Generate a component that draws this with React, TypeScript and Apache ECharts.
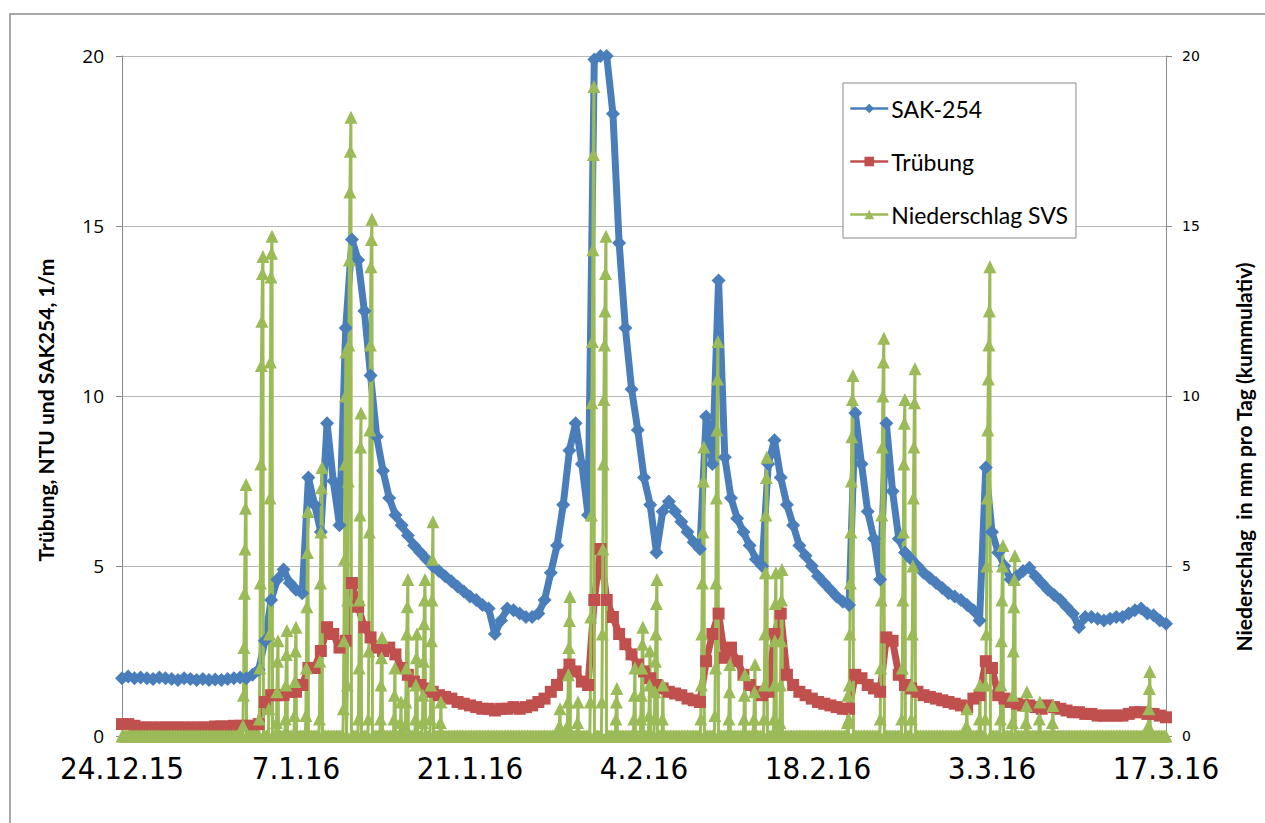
import React, { useEffect, useRef } from "react";
import * as echarts from "echarts";

// x-axis tick labels (every 14 days, starting 24.12.15 = day 0)
const xTickLabels = ["24.12.15", "7.1.16", "21.1.16", "4.2.16", "18.2.16", "3.3.16", "17.3.16"];

// SAK-254 [1/m], one reading every half day from day 0 to day 84
const sakValues = [
  1.7, 1.75, 1.7, 1.72, 1.7, 1.68, 1.72, 1.7, 1.68, 1.65,
  1.7, 1.68, 1.65, 1.68, 1.65, 1.66, 1.65, 1.68, 1.7, 1.72,
  1.7, 1.8, 1.95, 2.8, 4.0, 4.6, 4.9, 4.5, 4.3, 4.2,
  7.6, 6.8, 6.0, 9.2, 7.5, 6.2, 12.0, 14.6, 14.0, 12.5,
  10.6, 8.8, 7.8, 7.0, 6.5, 6.2, 5.9, 5.6, 5.4, 5.2,
  5.0, 4.85, 4.7, 4.55, 4.4, 4.25, 4.1, 4.0, 3.85, 3.75,
  3.0, 3.4, 3.75, 3.7, 3.6, 3.5, 3.5, 3.6, 4.0, 4.8,
  5.6, 6.8, 8.4, 9.2, 8.0, 6.5, 19.9, 20, 20, 18.3,
  14.5, 12.0, 10.2, 9.0, 7.6, 6.8, 5.4, 6.6, 6.9, 6.6,
  6.3, 6.0, 5.7, 5.5, 9.4, 8.0, 13.4, 8.2, 7.0, 6.4,
  6.0, 5.6, 5.2, 5.0, 8.0, 8.7, 7.6, 6.8, 6.2, 5.6,
  5.3, 5.0, 4.7, 4.5, 4.3, 4.1, 3.95, 3.85, 9.5, 8.0,
  6.6, 5.8, 4.6, 9.2, 7.2, 5.8, 5.4, 5.2, 5.0, 4.8,
  4.65, 4.5, 4.35, 4.2, 4.1, 4.0, 3.85, 3.7, 3.4, 7.9,
  6.0, 5.4, 5.0, 4.6, 4.7, 4.85, 4.95, 4.7, 4.5, 4.3,
  4.15, 4.0, 3.8, 3.6, 3.2, 3.5, 3.5, 3.45, 3.4, 3.45,
  3.5, 3.5, 3.6, 3.7, 3.75, 3.6, 3.55, 3.4, 3.3,
];

// Trübung [NTU], one reading every half day from day 0 to day 84
const truebungValues = [
  0.35, 0.35, 0.3, 0.25, 0.25, 0.25, 0.25, 0.25, 0.25, 0.25,
  0.25, 0.25, 0.25, 0.25, 0.25, 0.28, 0.28, 0.28, 0.3, 0.3,
  0.3, 0.3, 0.35, 1.0, 1.2, 1.2, 1.2, 1.3, 1.3, 1.5,
  2.0, 2.0, 2.5, 3.2, 3.0, 2.6, 2.8, 4.5, 3.8, 3.2,
  2.9, 2.6, 2.5, 2.6, 2.4, 2.0, 1.8, 1.6, 1.5, 1.4,
  1.3, 1.2, 1.15, 1.1, 1.0, 0.95, 0.9, 0.85, 0.8, 0.8,
  0.75, 0.8, 0.8, 0.85, 0.8, 0.85, 0.9, 1.0, 1.1, 1.3,
  1.5, 1.8, 2.1, 1.9, 1.6, 1.5, 4.0, 5.5, 4.0, 3.5,
  3.0, 2.7, 2.4, 2.1, 1.9, 1.7, 1.5, 1.4, 1.3, 1.25,
  1.2, 1.1, 1.05, 1.0, 2.2, 3.0, 3.6, 2.3, 2.6, 2.2,
  1.8, 1.5, 1.3, 1.2, 1.3, 3.0, 3.6, 1.8, 1.5, 1.3,
  1.2, 1.1, 1.0, 0.95, 0.9, 0.85, 0.8, 0.8, 1.8, 1.7,
  1.5, 1.4, 1.3, 2.9, 2.8, 1.8, 1.5, 1.4, 1.3, 1.2,
  1.15, 1.1, 1.05, 1.0, 0.95, 0.9, 0.85, 1.1, 1.2, 2.2,
  2.0, 1.2, 1.1, 1.0, 0.95, 0.9, 0.9, 0.85, 0.8, 0.9,
  0.85, 0.8, 0.75, 0.7, 0.7, 0.65, 0.65, 0.6, 0.6, 0.6,
  0.6, 0.6, 0.65, 0.7, 0.7, 0.65, 0.65, 0.6, 0.55,
];

// Niederschlag SVS: [day of peak, hourly cumulative readings in mm]
const rainEvents: [number, number[]][] = [
  [9.98, [0.3, 1.2, 2.6, 4.2, 5.5, 6.7, 7.4]],
  [11.34, [0.5, 2.0, 4.5, 8.0, 10.9, 12.2, 13.6, 14.1]],
  [12.07, [0.8, 3.0, 7.0, 11.0, 13.5, 14.2, 14.7]],
  [12.55, [0.4, 1.3, 2.2, 2.8]],
  [13.27, [0.5, 1.5, 2.4, 3.1]],
  [14.0, [0.6, 1.6, 2.5, 3.2]],
  [14.96, [0.6, 2.0, 3.8, 5.4, 6.6]],
  [16.09, [0.5, 2.2, 4.5, 6.0, 7.3, 7.9]],
  [18.02, [0.8, 2.8, 5.2, 8.0, 10.0, 11.3]],
  [18.42, [1.5, 4.0, 7.5, 11.5, 14.0, 16.0, 17.2, 18.2]],
  [19.23, [0.5, 2.0, 4.0, 6.5, 8.5, 9.5]],
  [20.11, [0.5, 2.5, 6.0, 9.0, 11.5, 13.8, 14.6, 15.2]],
  [20.92, [0.5, 1.5, 2.3, 2.9]],
  [21.96, [0.5, 1.2, 2.0]],
  [22.45, [0.4, 1.0]],
  [23.0, [0.3, 1.0, 2.0, 3.0, 3.8, 4.6]],
  [23.73, [0.5, 1.5, 2.3, 3.0]],
  [24.38, [0.4, 1.2, 2.2, 3.3, 4.0, 4.6]],
  [25.02, [0.5, 1.5, 2.8, 4.0, 5.2, 6.3]],
  [25.66, [0.4, 1.0]],
  [35.24, [0.3, 0.8]],
  [36.04, [0.3, 1.0, 1.8, 2.6, 3.4, 4.1]],
  [36.69, [0.4, 1.0]],
  [37.97, [1.0, 3.5, 6.5, 9.8, 11.6, 14.3, 17.1, 19.1]],
  [38.94, [1.0, 3.0, 5.5, 8.0, 9.9, 11.5, 12.5, 13.6, 14.7]],
  [39.82, [0.5, 1.0, 1.4]],
  [41.27, [0.5, 1.2, 2.0]],
  [41.91, [0.5, 1.2, 2.0, 2.7, 3.2]],
  [42.48, [0.6, 1.5, 2.5]],
  [43.04, [0.5, 1.3, 2.2, 3.0, 3.9, 4.6]],
  [43.52, [0.5, 1.5]],
  [46.82, [0.5, 1.5, 3.0, 4.5, 6.0, 7.5, 8.5]],
  [47.95, [0.6, 2.0, 4.5, 7.0, 9.0, 10.5, 11.6]],
  [48.91, [0.5, 1.3, 2.1]],
  [50.12, [0.5, 1.2, 1.8]],
  [50.93, [0.5, 1.3, 2.1]],
  [51.89, [0.5, 1.5, 3.0, 4.8, 6.5, 7.6, 8.2]],
  [52.61, [0.5, 1.5, 2.8, 3.9, 4.8]],
  [53.1, [0.4, 1.5, 2.8, 4.0, 4.9]],
  [58.41, [0.4, 1.2]],
  [58.81, [0.5, 1.5, 3.0, 4.5, 6.0, 7.5, 8.8, 9.9, 10.6]],
  [61.3, [0.5, 2.0, 4.0, 6.5, 8.5, 10.0, 11.0, 11.7]],
  [62.99, [0.5, 2.0, 4.0, 6.0, 8.0, 9.2, 9.9]],
  [63.8, [0.5, 1.5, 3.0, 5.0, 7.0, 8.5, 9.8, 10.8]],
  [67.98, [0.3, 0.8]],
  [69.03, [0.5, 1.5]],
  [69.83, [0.5, 1.5, 3.0, 5.0, 7.0, 9.0, 10.5, 11.5, 12.5, 13.8]],
  [70.88, [0.5, 1.5, 2.8, 4.0, 5.0, 5.6]],
  [71.84, [0.4, 1.2, 2.5, 3.8, 4.6, 5.3]],
  [72.81, [0.4, 0.9, 1.3]],
  [73.85, [0.5, 1.0]],
  [74.9, [0.4, 0.9]],
  [82.7, [0.3, 0.8, 1.4, 1.9]],
];

const HALF_DAY = 0.5;
const HOUR = 1 / 24;
const LAST_DAY = 84;
const DRY_STEP = 0.125; // dry-period readings every 3 hours (value 0)

function halfDayPairs(vals: number[]) {
  return vals.map((v, i) => [i * HALF_DAY, v]);
}

function rainPairs() {
  const pts: number[][] = [];
  const busy: number[][] = [];
  rainEvents.forEach(([tp, r]) => {
    const t0 = tp - r.length * HOUR;
    pts.push([t0, 0]);
    r.forEach((v, i) => pts.push([tp - (r.length - 1 - i) * HOUR, v]));
    pts.push([tp + HOUR, 0]);
    busy.push([t0, tp + HOUR]);
  });
  const n = Math.round(LAST_DAY / DRY_STEP);
  for (let k = 0; k <= n; k++) {
    const t = k * DRY_STEP;
    if (!busy.some(([a, b]) => t >= a - 0.05 && t <= b + 0.05)) pts.push([t, 0]);
  }
  pts.sort((a, b) => a[0] - b[0]);
  return pts;
}

const BLUE = "#4A7EBB";
const RED = "#C0504D";
const GREEN = "#9BBB59";
const GRID = "#b8b8b8";
const AXIS = "#8a8a8a";

export default function App() {
  const ref = useRef<HTMLDivElement>(null);
  useEffect(() => {
    if (!ref.current) return;
    const chart = echarts.init(ref.current, undefined, { renderer: "svg" });
    const option: any = {
      animation: false,
      backgroundColor: "#ffffff",
      grid: { left: 122, right: 99, top: 56, bottom: 87, containLabel: false },
      legend: {
        orient: "vertical",
        left: 843,
        top: 83,
        padding: [14, 8, 12, 6],
        itemGap: 30,
        itemWidth: 38,
        itemHeight: 12,
        backgroundColor: "#ffffff",
        borderColor: "#888888",
        borderWidth: 1,
        borderRadius: 0,
        textStyle: { fontFamily: "Lato, 'Open Sans', sans-serif", fontSize: 23, color: "#000", padding: [0, 0, 0, -2] },
        data: [
          { name: "SAK-254", itemStyle: { color: BLUE }, lineStyle: { width: 2.5 } },
          { name: "Trübung", itemStyle: { color: RED }, lineStyle: { width: 2.5 } },
          { name: "Niederschlag SVS", itemStyle: { color: GREEN }, lineStyle: { width: 2.5 } },
        ],
      },
      xAxis: {
        type: "value",
        min: 0,
        max: LAST_DAY,
        interval: 14,
        axisLine: { show: true, lineStyle: { color: AXIS, width: 1 } },
        axisTick: { show: true, length: 6, lineStyle: { color: AXIS } },
        splitLine: { show: false },
        axisLabel: {
          formatter: (v: number) => xTickLabels[Math.round(v / 14)] ?? "",
          fontFamily: "'Liberation Sans Narrow', 'Arial Narrow', 'DejaVu Sans Condensed', Roboto, sans-serif",
          fontSize: 31,
          color: "#000",
          margin: 16,
        },
      },
      yAxis: [
        {
          type: "value",
          min: 0,
          max: 20,
          interval: 5,
          position: "left",
          axisLine: { show: true, lineStyle: { color: AXIS } },
          axisTick: { show: true, length: 6, lineStyle: { color: AXIS } },
          splitLine: { show: true, lineStyle: { color: GRID, width: 1 } },
          axisLabel: { fontFamily: "'Open Sans', sans-serif", fontSize: 19, color: "#000", margin: 18 },
        },
        {
          type: "value",
          min: 0,
          max: 20,
          interval: 5,
          position: "right",
          axisLine: { show: true, lineStyle: { color: AXIS } },
          axisTick: { show: true, length: 6, lineStyle: { color: AXIS } },
          splitLine: { show: false },
          axisLabel: { fontFamily: "'DejaVu Sans', sans-serif", fontSize: 14, color: "#000", margin: 16 },
        },
      ],
      graphic: [
        {
          type: "rect",
          z: -10,
          shape: { x: 10, y: 14, width: 1270, height: 830 },
          style: { fill: "none", stroke: "#8c8c8c", lineWidth: 1.5 },
        },
        {
          type: "text",
          x: 45,
          y: 410,
          rotation: Math.PI / 2,
          style: {
            text: "Trübung, NTU und SAK254, 1/m",
            fontFamily: "Lato, 'Open Sans', sans-serif",
            fontWeight: "bold",
            fontSize: 21,
            fill: "#000",
            align: "center",
            verticalAlign: "middle",
          },
        },
        {
          type: "text",
          x: 1243,
          y: 457,
          rotation: Math.PI / 2,
          style: {
            text: "Niederschlag  in mm pro Tag (kummulativ)",
            fontFamily: "Lato, 'Open Sans', sans-serif",
            fontWeight: "bold",
            fontSize: 21,
            fill: "#000",
            align: "center",
            verticalAlign: "middle",
          },
        },
      ],
      series: [
        {
          name: "SAK-254",
          type: "line",
          yAxisIndex: 0,
          data: halfDayPairs(sakValues),
          symbol: "diamond",
          symbolSize: 14,
          itemStyle: { color: BLUE },
          lineStyle: { color: BLUE, width: 7 },
        },
        {
          name: "Trübung",
          type: "line",
          yAxisIndex: 0,
          data: halfDayPairs(truebungValues),
          symbol: "rect",
          symbolSize: 12,
          itemStyle: { color: RED },
          lineStyle: { color: RED, width: 7 },
        },
        {
          name: "Niederschlag SVS",
          type: "line",
          yAxisIndex: 1,
          clip: false,
          data: rainPairs(),
          symbol: "triangle",
          symbolSize: 13,
          itemStyle: { color: GREEN },
          lineStyle: { color: GREEN, width: 3 },
        },
      ],
    };
    chart.setOption(option);
    return () => chart.dispose();
  }, []);
  return (
    <div
      ref={ref}
      style={{ position: "fixed", left: 0, top: 0, width: 1265, height: 823, background: "#fff" }}
    />
  );
}
